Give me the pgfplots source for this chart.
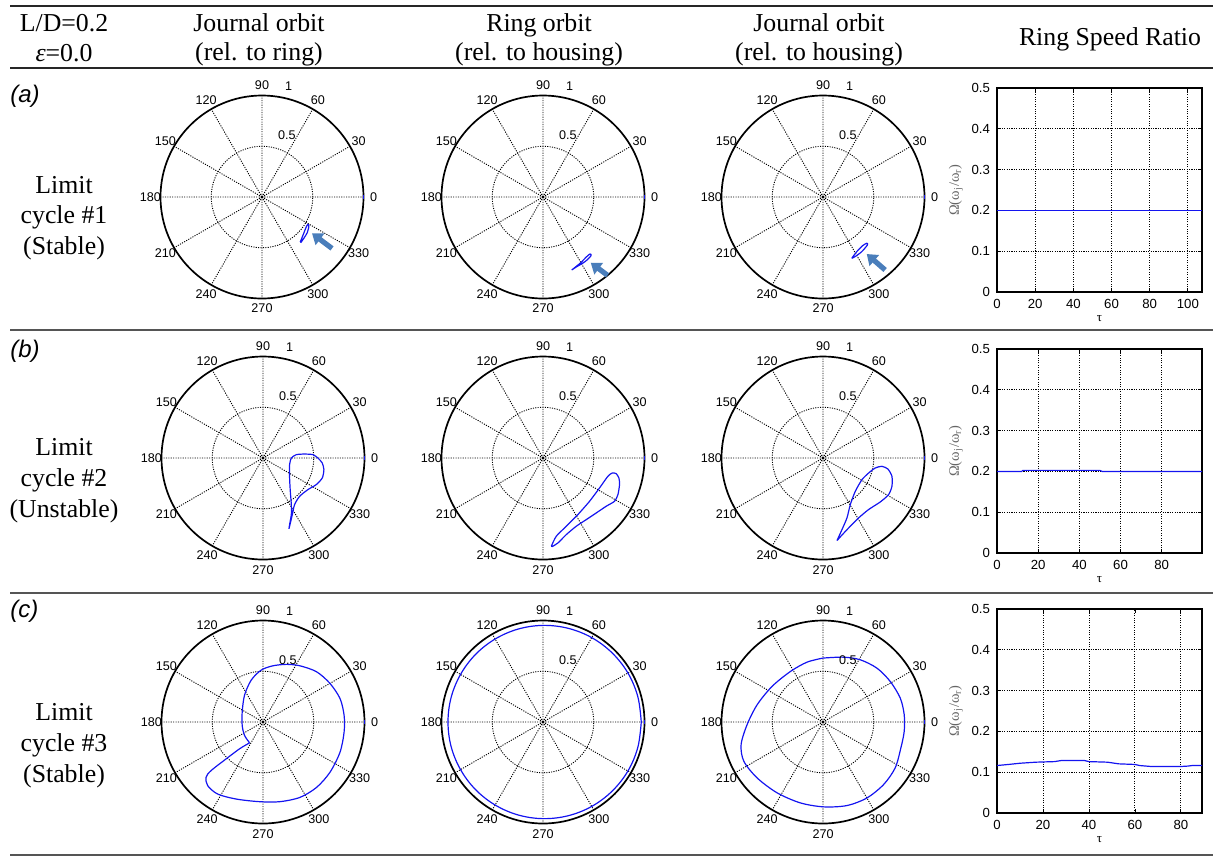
\documentclass[border=0pt]{standalone}
\usepackage{fontspec}
\setmainfont{Liberation Serif}
\setsansfont{Liberation Sans}
\usepackage{pgfplots}
\pgfplotsset{compat=1.18}
\usepgfplotslibrary{polar}
\usetikzlibrary{arrows.meta}
\definecolor{arrowblue}{RGB}{74,126,187}
\definecolor{rulegray}{RGB}{85,85,85}
\definecolor{curveblue}{RGB}{20,20,240}
\pgfplotsset{
  mypolar/.style={
    width=101.5pt, height=101.5pt, scale only axis, anchor=center,
    xmin=0, xmax=360, ymin=0, ymax=1,
    xtick={0,30,...,330}, ytick={0.5},
    xticklabels={}, yticklabels={},
    grid=major,
    major grid style={black, line width=0.45pt, dash pattern=on 0.55pt off 0.65pt},
    major tick length=0pt,
    axis line style={black, line width=0.85pt},
    y axis line style={draw=none},
    clip=false, no markers,
    cycle list={{curveblue, line width=0.6pt}},
    every axis plot/.append style={curveblue, line width=0.6pt},
    after end axis/.code={
      \foreach \a in {0,30,...,330}{
        \node[font=\sffamily\fontsize{6.3}{7}\selectfont, inner sep=0pt] at (axis cs:\a,1.1) {\a};
      }
      \node[font=\sffamily\fontsize{6.3}{7}\selectfont, inner sep=0pt] at (axis cs:68,0.655) {0.5};
      \node[font=\sffamily\fontsize{6.3}{7}\selectfont, inner sep=0pt] at (axis cs:76.4,1.12) {1};
      \fill[black] (axis cs:0,0) circle[radius=0.8pt];
    },
  },
  myomega/.style={
    width=102.5pt, height=102pt, scale only axis, anchor=north west,
    xmin=0, ymin=0, ymax=0.5,
    ytick={0,0.1,0.2,0.3,0.4,0.5},
    yticklabels={0,0.1,0.2,0.3,0.4,0.5},
    grid=major,
    major grid style={black, line width=0.45pt, dash pattern=on 0.55pt off 0.65pt},
    tick align=inside, major tick length=2pt,
    tick style={black, line width=0.4pt},
    axis line style={black, line width=0.55pt},
    no markers,
    cycle list={{curveblue, line width=0.6pt}},
    /pgf/number format/assume math mode=true,
    ticklabel style={font=\sffamily\fontsize{6.6}{7.5}\selectfont},
    xlabel={τ}, ylabel={Ω(ω\textsubscript{j}/ω\textsubscript{r})},
    xlabel style={font=\fontsize{6.5}{7.5}\selectfont, at={(axis description cs:0.5,-0.13)}, anchor=center},
    ylabel style={font=\fontsize{7.2}{8}\selectfont, text=black!60, at={(axis description cs:-0.2,0.5)}, anchor=center},
    every axis plot/.append style={curveblue, line width=0.6pt},
  },
}
\newcommand\hdr{\fontsize{12.9}{15}\selectfont}
\begin{document}
\begin{tikzpicture}
\useasboundingbox (0,0) rectangle (606.5pt,-428.5pt);
% rules
\draw[line width=1pt, black!85] (5pt,-3pt) -- (606.5pt,-3pt);
\draw[line width=1pt, black!85] (5pt,-34pt) -- (606.5pt,-34pt);
\draw[line width=0.8pt, rulegray] (5pt,-165pt) -- (606.5pt,-165pt);
\draw[line width=0.8pt, rulegray] (5pt,-296.5pt) -- (606.5pt,-296.5pt);
\draw[line width=0.8pt, rulegray] (5pt,-427.5pt) -- (606.5pt,-427.5pt);
% header
\node[anchor=base, font=\hdr] at (32pt,-15.8pt) {L/D=0.2};
\node[anchor=base, font=\hdr] at (32pt,-30.7pt) {\textit{ε}=0.0};
\node[anchor=base, font=\hdr] at (129.5pt,-15.8pt) {Journal orbit};
\node[anchor=base, font=\hdr] at (129.5pt,-30.2pt) {(rel. to ring)};
\node[anchor=base, font=\hdr] at (269.5pt,-15.8pt) {Ring orbit};
\node[anchor=base, font=\hdr] at (269.5pt,-30.2pt) {(rel. to housing)};
\node[anchor=base, font=\hdr] at (409.5pt,-15.8pt) {Journal orbit};
\node[anchor=base, font=\hdr] at (409.5pt,-30.2pt) {(rel. to housing)};
\node[anchor=base, font=\hdr] at (555pt,-22.5pt) {Ring Speed Ratio};
% row labels
\node[anchor=base west, font=\sffamily\itshape\fontsize{12}{14}\selectfont, inner sep=0pt] at (5pt,-51pt) {(\textit{a})};
\node[anchor=base west, font=\sffamily\itshape\fontsize{12}{14}\selectfont, inner sep=0pt] at (5pt,-178.5pt) {(\textit{b})};
\node[anchor=base west, font=\sffamily\itshape\fontsize{12}{14}\selectfont, inner sep=0pt] at (5pt,-308.5pt) {(\textit{c})};
\node[anchor=base, font=\hdr] at (32pt,-96.5pt) {Limit};
\node[anchor=base, font=\hdr] at (32pt,-111.7pt) {cycle \#1};
\node[anchor=base, font=\hdr] at (32pt,-127pt) {(Stable)};
\node[anchor=base, font=\hdr] at (32pt,-227.5pt) {Limit};
\node[anchor=base, font=\hdr] at (32pt,-243pt) {cycle \#2};
\node[anchor=base, font=\hdr] at (32pt,-258.5pt) {(Unstable)};
\node[anchor=base, font=\hdr] at (32pt,-360pt) {Limit};
\node[anchor=base, font=\hdr] at (32pt,-375.5pt) {cycle \#3};
\node[anchor=base, font=\hdr] at (32pt,-391pt) {(Stable)};

% ---------- row a ----------
\begin{polaraxis}[mypolar, at={(131pt,-98.5pt)}]
\addplot[data cs=cart] coordinates {(1,-0.02)(1,0.02)};
\addplot[data cs=cart, smooth] coordinates {(0.377,-0.443)(0.410,-0.361)(0.433,-0.302)(0.452,-0.269)(0.462,-0.285)(0.446,-0.351)(0.410,-0.410)(0.384,-0.446)(0.377,-0.443)};
\draw[arrowblue, line width=2.6pt, -{Triangle[length=5pt,width=7pt]}] (axis cs:323.7,0.856) -- (axis cs:324,0.609);
\end{polaraxis}
\begin{polaraxis}[mypolar, at={(271.5pt,-98.5pt)}]
\addplot[data cs=cart] coordinates {(1,-0.02)(1,0.02)};
\addplot[data cs=cart, smooth] coordinates {(0.283,-0.719)(0.365,-0.653)(0.430,-0.588)(0.463,-0.562)(0.473,-0.578)(0.414,-0.637)(0.332,-0.687)(0.283,-0.719)};
\draw[arrowblue, line width=2.6pt, -{Triangle[length=5pt,width=7pt]}] (axis cs:309.5,1.0) -- (axis cs:306,0.80);
\end{polaraxis}
\begin{polaraxis}[mypolar, at={(411.5pt,-98.5pt)}]
\addplot[data cs=cart] coordinates {(1,-0.02)(1,0.02)};
\addplot[data cs=cart, smooth] coordinates {(0.283,-0.604)(0.332,-0.539)(0.391,-0.479)(0.431,-0.456)(0.437,-0.473)(0.381,-0.539)(0.315,-0.588)(0.283,-0.604)};
\draw[arrowblue, line width=2.6pt, -{Triangle[length=5pt,width=7pt]}] (axis cs:310.4,0.944) -- (axis cs:307.5,0.708);
\end{polaraxis}
\begin{axis}[myomega, at={(498.5pt,-44pt)}, xmax=107.4, xtick={0,20,...,100}]
\addplot[curveblue, line width=0.7pt] coordinates {(0,0.2)(107.4,0.2)};
\end{axis}

% ---------- row b ----------
\begin{polaraxis}[mypolar, at={(131.5pt,-229pt)}]
\addplot[data cs=cart] coordinates {(1,-0.02)(1,0.02)};
\addplot[data cs=cart, smooth, tension=0.4] coordinates {(0.256,-0.698)(0.289,-0.557)(0.311,-0.459)(0.361,-0.377)(0.443,-0.311)(0.525,-0.262)(0.584,-0.197)(0.600,-0.115)(0.584,-0.049)(0.541,0.0)(0.492,0.033)(0.410,0.039)(0.328,0.033)(0.279,0)(0.262,-0.066)(0.262,-0.197)(0.269,-0.328)(0.279,-0.459)(0.279,-0.557)(0.262,-0.656)(0.256,-0.698)};
\end{polaraxis}
\begin{polaraxis}[mypolar, at={(271.5pt,-229pt)}]
\addplot[data cs=cart] coordinates {(1,-0.02)(1,0.02)};
\addplot[data cs=cart, smooth, tension=0.4] coordinates {(0.082,-0.869)(0.131,-0.770)(0.230,-0.672)(0.344,-0.557)(0.459,-0.426)(0.557,-0.295)(0.639,-0.180)(0.682,-0.148)(0.721,-0.154)(0.748,-0.197)(0.754,-0.262)(0.738,-0.361)(0.705,-0.426)(0.623,-0.475)(0.525,-0.541)(0.426,-0.607)(0.328,-0.672)(0.230,-0.754)(0.148,-0.836)(0.092,-0.872)(0.082,-0.869)};
\end{polaraxis}
\begin{polaraxis}[mypolar, at={(411.5pt,-229pt)}]
\addplot[data cs=cart] coordinates {(1,-0.02)(1,0.02)};
\addplot[data cs=cart, smooth, tension=0.4] coordinates {(0.138,-0.813)(0.187,-0.705)(0.236,-0.590)(0.269,-0.459)(0.318,-0.328)(0.384,-0.213)(0.449,-0.148)(0.515,-0.098)(0.580,-0.082)(0.639,-0.108)(0.679,-0.180)(0.679,-0.279)(0.646,-0.361)(0.564,-0.433)(0.449,-0.508)(0.351,-0.590)(0.269,-0.672)(0.197,-0.748)(0.138,-0.813)};
\end{polaraxis}
\begin{axis}[myomega, at={(498.5pt,-174.5pt)}, xmax=99.6, xtick={0,20,...,80}]
\addplot[curveblue, line width=0.6pt] coordinates {(0,0.2)(12,0.2)(12.5,0.2025)(50,0.2025)(51,0.2)(99.6,0.2)};
\end{axis}

% ---------- row c ----------
\begin{polaraxis}[mypolar, at={(131.5pt,-361pt)}]
\addplot[data cs=cart] coordinates {(1,-0.02)(1,0.02)};
\addplot[data cs=cart, smooth, tension=0.5] coordinates {(-0.132,-0.205)(-0.182,-0.132)(-0.205,-0.033)(-0.205,0.099)(-0.182,0.264)(-0.116,0.413)(-0.017,0.512)(0.099,0.554)(0.231,0.568)(0.363,0.554)(0.528,0.495)(0.660,0.380)(0.759,0.231)(0.799,0.066)(0.799,-0.099)(0.759,-0.297)(0.660,-0.495)(0.528,-0.644)(0.363,-0.743)(0.165,-0.785)(-0.033,-0.785)(-0.264,-0.759)(-0.446,-0.710)(-0.545,-0.627)(-0.561,-0.545)(-0.512,-0.479)(-0.363,-0.363)(-0.231,-0.264)(-0.132,-0.205)};
\end{polaraxis}
\begin{polaraxis}[mypolar, at={(271.5pt,-361pt)}]
\addplot[data cs=cart] coordinates {(1,-0.02)(1,0.02)};
\addplot[curveblue, line width=0.6pt, smooth, tension=0.6] coordinates {(0,0.968)(15,0.967)(30,0.966)(45,0.963)(60,0.960)(75,0.956)(90,0.952)(105,0.948)(120,0.944)(135,0.941)(150,0.938)(165,0.937)(180,0.936)(195,0.937)(210,0.938)(225,0.941)(240,0.944)(255,0.948)(270,0.952)(285,0.956)(300,0.960)(315,0.963)(330,0.966)(345,0.967)(360,0.968)};
\end{polaraxis}
\begin{polaraxis}[mypolar, at={(411.5pt,-361pt)}]
\addplot[data cs=cart] coordinates {(1,-0.02)(1,0.02)};
\addplot[data cs=cart, smooth, tension=0.5] coordinates {(0,0.630)(0.203,0.639)(0.367,0.613)(0.531,0.531)(0.662,0.400)(0.761,0.236)(0.800,0.072)(0.800,-0.092)(0.767,-0.256)(0.711,-0.452)(0.597,-0.616)(0.433,-0.748)(0.236,-0.823)(0.007,-0.836)(-0.223,-0.797)(-0.452,-0.698)(-0.649,-0.551)(-0.780,-0.387)(-0.807,-0.223)(-0.748,-0.026)(-0.649,0.170)(-0.502,0.351)(-0.321,0.498)(-0.157,0.590)(0,0.630)};
\end{polaraxis}
\begin{axis}[myomega, at={(498.5pt,-304.5pt)}, xmax=89.2, xtick={0,20,...,80}]
\addplot[curveblue, line width=0.6pt] coordinates {(0,0.1164)(5,0.119)(10,0.122)(17,0.1246)(25,0.126)(28,0.1287)(38,0.1287)(40,0.126)(48,0.1246)(53,0.1205)(60,0.119)(62,0.1164)(67,0.114)(80,0.114)(83,0.115)(85,0.1164)(89.2,0.1164)};
\end{axis}
\end{tikzpicture}
\end{document}
